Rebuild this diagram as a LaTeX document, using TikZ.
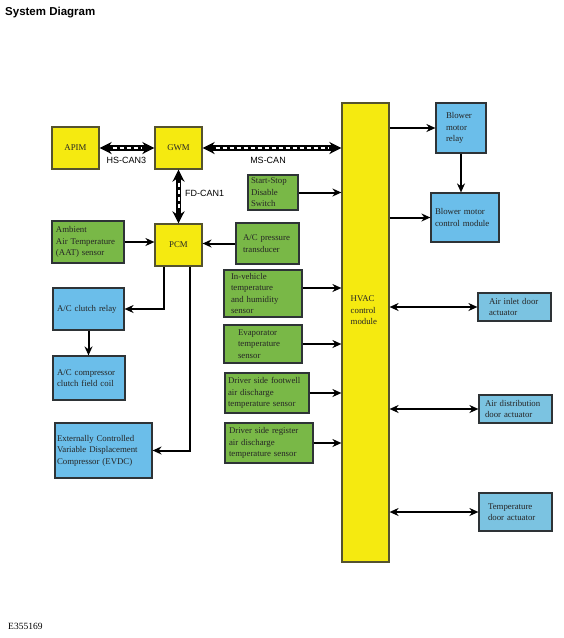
\documentclass[tikz,border=0pt]{standalone}
\usepackage{fontspec}
\setmainfont{Liberation Serif}
\newfontfamily\arialf{Liberation Sans}
\usetikzlibrary{arrows.meta,calc}
\definecolor{ylw}{HTML}{F5EA10}
\definecolor{ylwb}{HTML}{55532E}
\definecolor{grn}{HTML}{79B847}
\definecolor{blu}{HTML}{6BBEEA}
\definecolor{blu2}{HTML}{7BC3E1}
\definecolor{bord}{HTML}{2E3336}
\hyphenpenalty=10000
\exhyphenpenalty=10000
\begin{document}
\begin{tikzpicture}[x=1pt,y=-1pt,
  box/.style={draw=bord, line width=1.2pt, inner ysep=2pt, font=\fontsize{8.8}{11.6}\selectfont, align=left, text=black!85},
  ybox/.style={box, fill=ylw, draw=ylwb, align=center},
  gbox/.style={box, fill=grn},
  bbox/.style={box, fill=blu},
  abox/.style={box, fill=blu2},
  arr/.style={line width=2pt, -{Stealth[length=9pt,width=8pt]}},
  darr/.style={line width=2pt, {Stealth[length=9pt,width=8pt]}-{Stealth[length=9pt,width=8pt]}},
  bus/.style={line width=5.5pt, {Stealth[length=12pt,width=12pt]}-{Stealth[length=12pt,width=12pt]},
    postaction={draw=white, -, line width=2pt, dash pattern=on 4pt off 3pt, shorten <=13pt, shorten >=13pt}},
  buslbl/.style={font=\arialf\fontsize{9}{10}\selectfont, inner sep=0pt}]
\fill[white] (0,0) rectangle (563,638);
\useasboundingbox (0,0) rectangle (563,638);

% title and code
\node[font=\arialf\bfseries\fontsize{11.5}{13}\selectfont, anchor=west, inner sep=0] (title) at (5,13) {System Diagram};
\node[font=\fontsize{9.5}{11}\selectfont, anchor=west, inner sep=0] (code) at (8,626) {E355169};

% yellow modules
\node[ybox, minimum width=47pt, minimum height=42pt] (apim) at (75.5,148) {APIM};
\node[ybox, minimum width=47pt, minimum height=42pt] (gwm) at (178.5,148) {GWM};
\node[ybox, minimum width=47pt, minimum height=42pt] (pcm) at (178.5,245) {PCM};
\node[ybox, minimum width=47pt, minimum height=459pt] (hvac) at (365.5,332.5) {};
\node[font=\fontsize{8.8}{11.6}\selectfont, anchor=north west, inner sep=0, align=left, text=black!85] (hvactxt) at (350.5,295.5) {HVAC\\control\\module};

% green sensors
\node[gbox, text width=64pt, inner xsep=4pt, minimum height=42pt] (aat) at (88,242) {Ambient\\Air Temperature\\(AAT) sensor};
\node[gbox, text width=49pt, inner xsep=7pt, minimum height=41pt] (acpt) at (267.5,243.5) {A/C pressure\\transducer};
\node[gbox, text width=44pt, inner xsep=3pt, minimum height=35pt] (ssds) at (273,192.5) {Start-Stop\\Disable\\Switch};
\node[gbox, text width=64pt, inner xsep=7pt, minimum height=47pt] (ivth) at (263,293.5) {In-vehicle\\temperature\\and humidity\\sensor};
\node[gbox, text width=50pt, inner xsep=14pt, minimum height=38pt] (evap) at (263,344) {Evaporator\\temperature\\sensor};
\node[gbox, text width=78pt, inner xsep=3pt, minimum height=40pt] (dsfw) at (267,393) {Driver side footwell\\air discharge\\temperature sensor};
\node[gbox, text width=80pt, inner xsep=4pt, minimum height=40pt] (dsrg) at (269,443) {Driver side register\\air discharge\\temperature sensor};

% blue components
\node[bbox, text width=63pt, inner xsep=4pt, minimum height=42pt] (accr) at (88.5,309) {A/C clutch relay};
\node[bbox, text width=64pt, inner xsep=4pt, minimum height=44pt] (accf) at (89,378) {A/C compressor\\clutch field coil};
\node[bbox, text width=93pt, inner xsep=2pt, minimum height=55pt] (evdc) at (103.5,450.5) {Externally Controlled\\Variable Displacement\\Compressor (EVDC)};
\node[bbox, text width=30pt, inner xsep=10pt, minimum height=50pt] (bmr) at (461,128) {Blower\\motor\\relay};
\node[bbox, text width=60pt, inner xsep=4pt, minimum height=49pt] (bmcm) at (465,217.5) {Blower motor\\control module};
\node[abox, text width=51pt, inner xsep=11pt, minimum height=28pt] (aida) at (514.5,307) {Air inlet door\\actuator};
\node[abox, text width=61pt, inner xsep=6pt, minimum height=28pt] (adda) at (515.5,409) {Air distribution\\door actuator};
\node[abox, text width=55pt, inner xsep=9pt, minimum height=38pt] (tda) at (515.5,512) {Temperature\\door actuator};

% network buses
\draw[bus] (apim.east) -- (gwm.west);
\draw[bus] (gwm.east) -- (gwm.east -| hvac.west);
\draw[bus] (gwm.south) -- (pcm.north);
\node[buslbl] (lhs) at (126.5,160) {HS-CAN3};
\node[buslbl] (lms) at (268,160) {MS-CAN};
\node[buslbl, anchor=west] (lfd) at (185,193) {FD-CAN1};

% sensor inputs to HVAC
\coordinate (ivo) at ($(ivth.east)+(0,-5.5)$);
\draw[arr] (ssds.east) -- (ssds.east -| hvac.west);
\draw[arr] (ivo) -- (ivo -| hvac.west);
\draw[arr] (evap.east) -- (evap.east -| hvac.west);
\draw[arr] (dsfw.east) -- (dsfw.east -| hvac.west);
\draw[arr] (dsrg.east) -- (dsrg.east -| hvac.west);

% HVAC outputs
\draw[arr] (hvac.east |- bmr.west) -- (bmr.west);
\draw[arr] (hvac.east |- bmcm.west) -- (bmcm.west);
\draw[arr] (bmr.south) -- (bmr.south |- bmcm.north);
\draw[darr] (hvac.east |- aida.west) -- (aida.west);
\draw[darr] (hvac.east |- adda.west) -- (adda.west);
\draw[darr] (hvac.east |- tda.west) -- (tda.west);

% PCM connections
\draw[arr] (aat.east) -- (aat.east -| pcm.west);
\draw[arr] (acpt.west) -- (acpt.west -| pcm.east);
\draw[arr] ([xshift=-14.5pt]pcm.south) |- (accr.east);
\draw[arr] ([xshift=11.5pt]pcm.south) |- (evdc.east);
\draw[arr] (accr.south) -- (accr.south |- accf.north);
\end{tikzpicture}
\end{document}
